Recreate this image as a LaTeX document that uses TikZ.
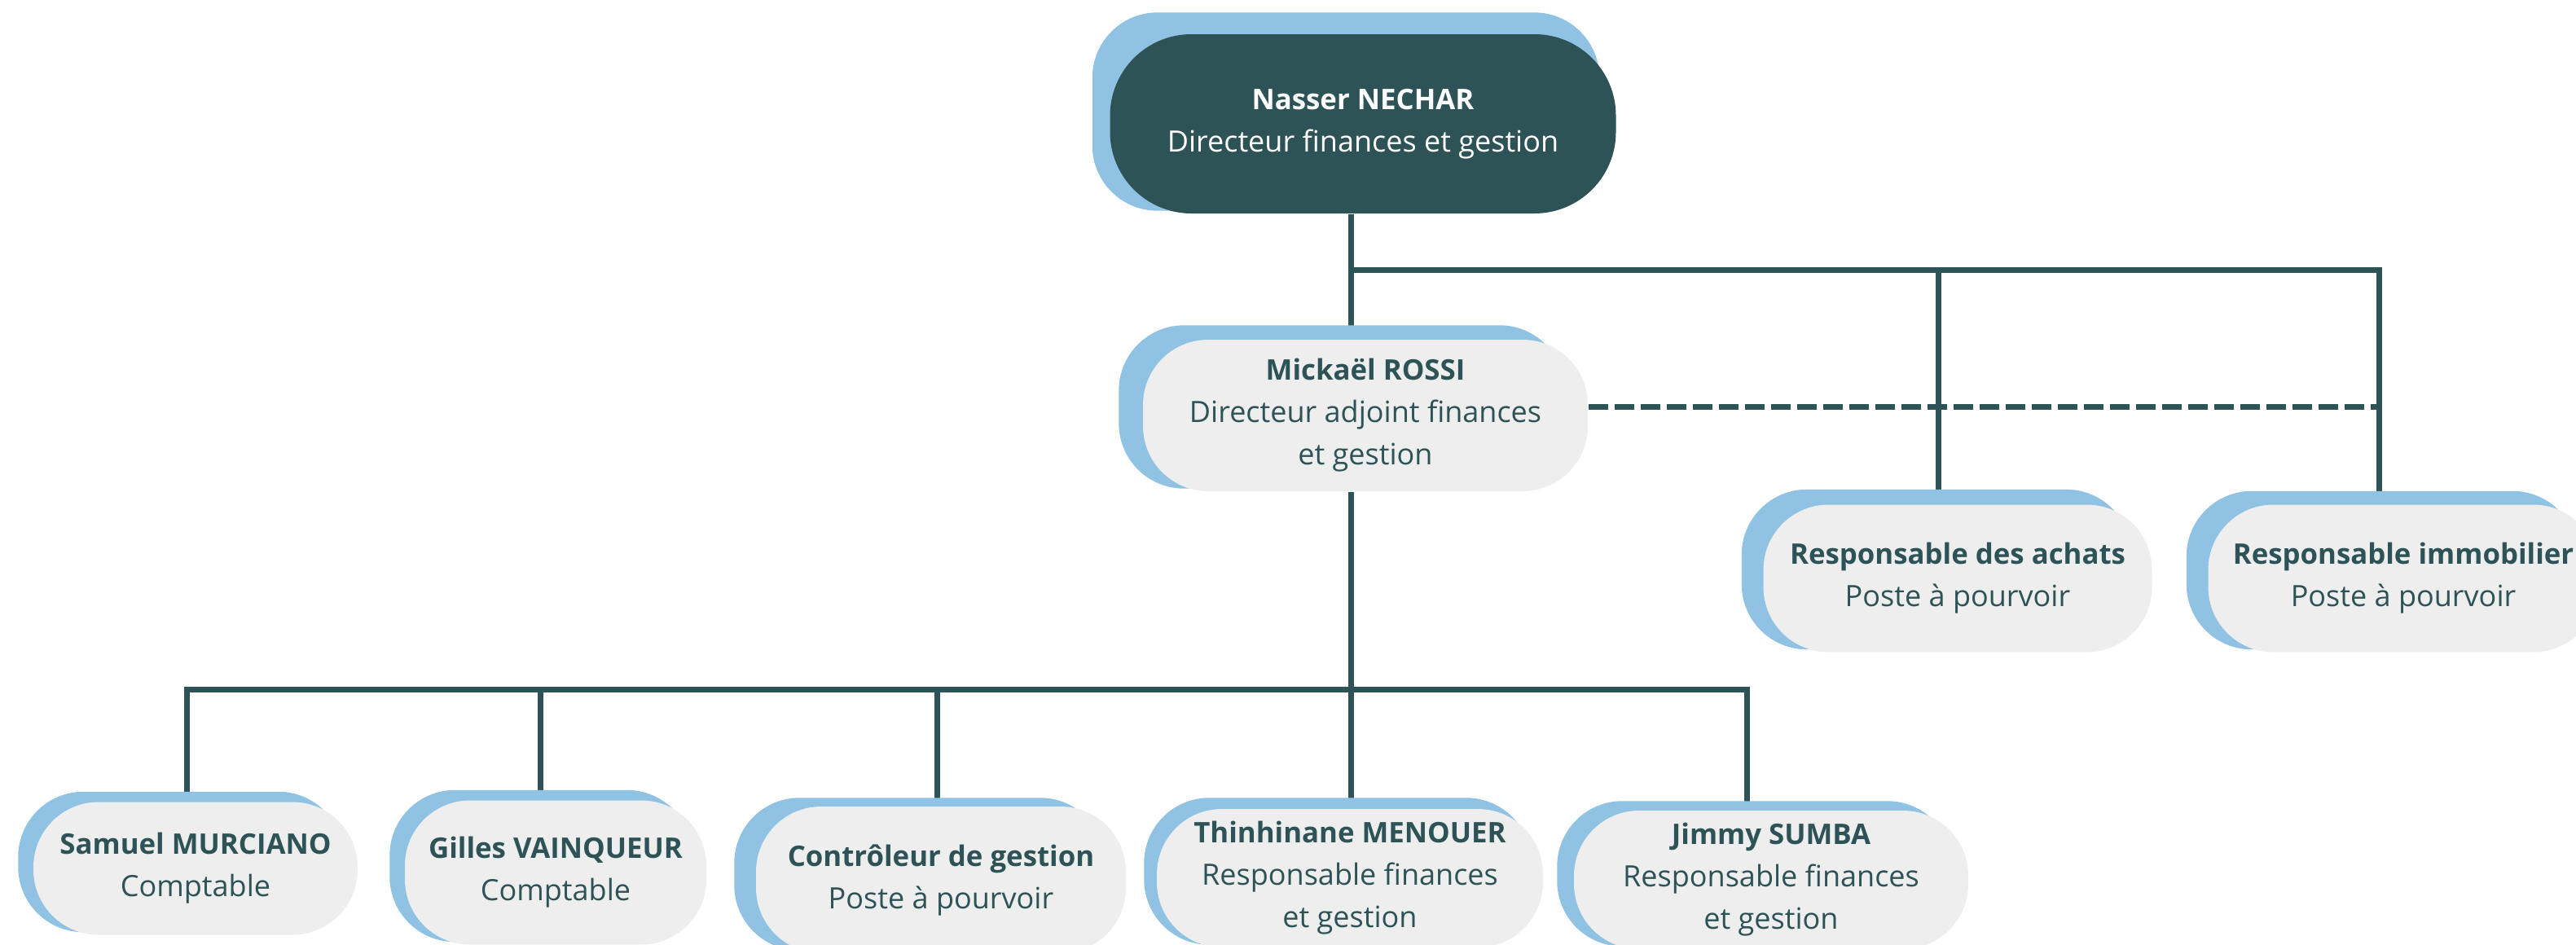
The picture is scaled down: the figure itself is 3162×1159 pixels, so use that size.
\documentclass[tikz,border=0pt]{standalone}
\usepackage{fontspec}
\setmainfont{Open Sans}
\usetikzlibrary{calc,backgrounds}
\definecolor{orgteal}{HTML}{2D5356}
\definecolor{orgblue}{HTML}{90C2E4}
\definecolor{orggray}{HTML}{EEEEEE}
\newcommand\cardname[1]{{\fontsize{9.9}{14.8}\selectfont\bfseries #1}}
\tikzset{
	card/.style={rectangle,rounded corners=8mm,fill=orggray,text=orgteal,align=center,inner sep=0pt,font=\fontsize{10.25}{14.8}\selectfont},
	headcard/.style={card,rounded corners=10mm,fill=orgteal,text=white},
	backing/.style={fill=orgblue,rounded corners=8mm},
	link/.style={draw=orgteal,line width=0.7mm},
	dashlink/.style={link,dash pattern=on 2.4mm off 0.8mm},
}
\begin{document}
\begin{tikzpicture}[x=0.1mm,y=-0.1mm]
		\useasboundingbox (0,0) rectangle (3162,1159);
		\clip (0,0) rectangle (3162,1159);
		% cards
		\node[headcard,minimum width=62.1mm,minimum height=22mm] (chef) at (1673,152) {\cardname{Nasser NECHAR}\\Directeur finances et gestion};
		\node[card,minimum width=54.6mm,minimum height=18.6mm] (rossi) at (1676,510) {\cardname{Mickaël ROSSI}\\Directeur adjoint finances\\et gestion};
		\node[card,minimum width=47.7mm,minimum height=18.1mm] (achats) at (2403,710) {\cardname{Responsable des achats}\\Poste à pourvoir};
		\node[card,minimum width=47.9mm,minimum height=18.1mm] (immo) at (2950,710) {\cardname{Responsable immobilier}\\Poste à pourvoir};
		\node[card,minimum width=39.8mm,minimum height=16.3mm] (samuel) at (240,1066) {\cardname{Samuel MURCIANO}\\Comptable};
		\node[card,minimum width=37mm,minimum height=17.7mm] (gilles) at (682,1071) {\cardname{Gilles VAINQUEUR}\\Comptable};
		\node[card,minimum width=45.4mm,minimum height=18mm] (controleur) at (1155,1080) {\cardname{Contrôleur de gestion}\\Poste à pourvoir};
		\node[card,minimum width=47.4mm,minimum height=17mm] (thinhinane) at (1657,1078) {\cardname{Thinhinane MENOUER}\\Responsable finances\\et gestion};
		\node[card,minimum width=48.4mm,minimum height=17mm] (jimmy) at (2174,1080) {\cardname{Jimmy SUMBA}\\Responsable finances\\et gestion};
		% bus points
		\coordinate (hub1) at (1658,331);
		\coordinate (achats bus) at (2379,331);
		\coordinate (immo bus) at (2920,331);
		\coordinate (dash end) at (2920,499);
		\coordinate (hub2) at (1658,846);
		\coordinate (samuel bus) at (229,846);
		\coordinate (gilles bus) at (663,846);
		\coordinate (controleur bus) at (1150,846);
		\coordinate (jimmy bus) at (2144,846);
		\begin{scope}[on background layer]
			\draw[link] (chef.south -| hub1) -- (hub1) -- (immo bus) -- (immo.north -| immo bus);
			\draw[link] (hub1) -- (rossi.north -| hub1);
			\draw[link] (achats bus) -- (achats.north -| achats bus);
			\draw[dashlink] (rossi.east |- dash end) -- (dash end);
			\draw[link] (rossi.south -| hub2) -- (hub2) -- (thinhinane.north -| hub2);
			\draw[link] (samuel.north -| samuel bus) -- (samuel bus) -- (jimmy bus) -- (jimmy.north -| jimmy bus);
			\draw[link] (gilles bus) -- (gilles.north -| gilles bus);
			\draw[link] (controleur bus) -- (controleur.north -| controleur bus);
			% blue backs
			\foreach \n/\dx/\dy in {chef/21/26,rossi/29/17,achats/26/18,immo/26/16,samuel/18/12,gilles/18/12,controleur/26/10,thinhinane/15/13,jimmy/20/11}
				\fill[backing] ($(\n.north west)+(-\dx,-\dy)$) rectangle ($(\n.south east)+(-\dx,-4)$);
		\end{scope}
	\end{tikzpicture}
\end{document}
